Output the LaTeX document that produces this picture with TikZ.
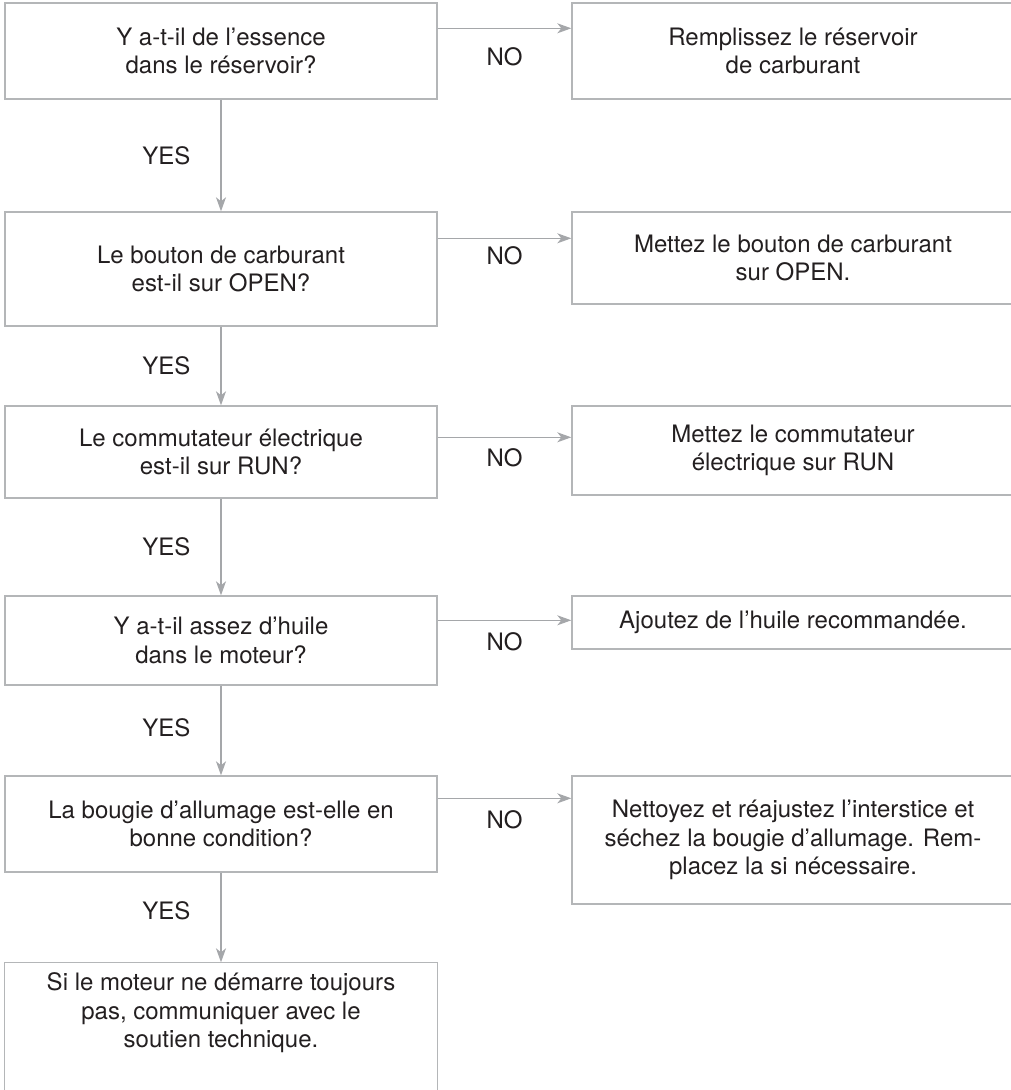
\documentclass[tikz,border=0pt]{standalone}
\usepackage{fontspec}
\setmainfont{TeX Gyre Heros}
\usepackage{xcolor}
\usepackage{tikz}
\usetikzlibrary{arrows.meta, positioning}
\definecolor{ink}{HTML}{231F20}
\definecolor{boxgray}{HTML}{B4B6B8}
\definecolor{flowgray}{HTML}{A5A7AA}
\newcommand{\flowfont}{\fontsize{24}{28.5}\selectfont}

\begin{document}
\begin{tikzpicture}[x=1pt, y=-1pt,
  question/.style={draw=boxgray, line width=1.4pt, minimum width=432pt, align=center, font=\flowfont, text=ink},
  action/.style={draw=boxgray, line width=1.4pt, minimum width=442pt, align=center, font=\flowfont, text=ink},
  flow/.style={-{Stealth[length=14pt, width=10pt, inset=4pt]}, line width=1.2pt, flowgray},
  tag/.style={font=\flowfont, text=ink, inner sep=0pt}]
\useasboundingbox (0,0) rectangle (1011,1090);

% Questions
\node[question, minimum height=96pt] (q1) at (221,51) {Y a-t-il de l’essence\\dans le réservoir?};
\node[question, minimum height=114pt] (q2) at (221,269) {Le bouton de carburant\\est-il sur OPEN?};
\node[question, minimum height=92pt] (q3) at (221,452) {Le commutateur électrique\\est-il sur RUN?};
\node[question, minimum height=89pt] (q4) at (221,640.5) {Y a-t-il assez d’huile\\dans le moteur?};
\node[question, minimum height=96pt] (q5) at (221,824) {La bougie d’allumage est-elle en\\bonne condition?};
\node[question, draw=none, minimum height=100pt] (fin) at (221,1013) {Si le moteur ne démarre toujours\\pas, communiquer avec le\\soutien technique.};
\draw[boxgray, line width=1.4pt] ([yshift=-150pt]fin.north west) -- (fin.north west) -- (fin.north east) -- ([yshift=-150pt]fin.north east);

% Actions
\node[action, minimum height=96pt] (a1) at (793,51) {Remplissez le réservoir\\de carburant};
\node[action, minimum height=92pt] (a2) at (793,258) {Mettez le bouton de carburant\\sur OPEN.};
\node[action, minimum height=89pt] (a3) at (793,450.5) {Mettez le commutateur\\électrique sur RUN};
\node[action, minimum height=53pt] (a4) at (793,622.5) {Ajoutez de l’huile recommandée.};
\node[action, minimum height=128pt] (a5) at (793,840) {Nettoyez et réajustez l’interstice et\\séchez la bougie d’allumage. Rem-\\placez la si nécessaire.};

% NO branches
\draw[flow] ([yshift=-26pt]q1.north east) -- ([yshift=-26pt]a1.north west) node[tag, midway, below=19pt] {NO};
\draw[flow] ([yshift=-27pt]q2.north east) -- ([yshift=-27pt]a2.north west) node[tag, midway, below=8pt] {NO};
\draw[flow] ([yshift=-32pt]q3.north east) -- ([yshift=-32pt]a3.north west) node[tag, midway, below=11pt] {NO};
\draw[flow] ([yshift=-25pt]q4.north east) -- ([yshift=-25pt]a4.north west) node[tag, midway, below=12pt] {NO};
\draw[flow] ([yshift=-23pt]q5.north east) -- ([yshift=-23pt]a5.north west) node[tag, midway, below=12pt] {NO};

% YES branches
\draw[flow] (q1.south) -- (q2.north) node[tag, midway, left=30pt] {YES};
\draw[flow] (q2.south) -- (q3.north) node[tag, midway, left=30pt] {YES};
\draw[flow] (q3.south) -- (q4.north) node[tag, midway, left=30pt] {YES};
\draw[flow] (q4.south) -- (q5.north) node[tag, pos=0.47, left=30pt] {YES};
\draw[flow] (q5.south) -- (fin.north) node[tag, pos=0.42, left=30pt] {YES};
\end{tikzpicture}
\end{document}
